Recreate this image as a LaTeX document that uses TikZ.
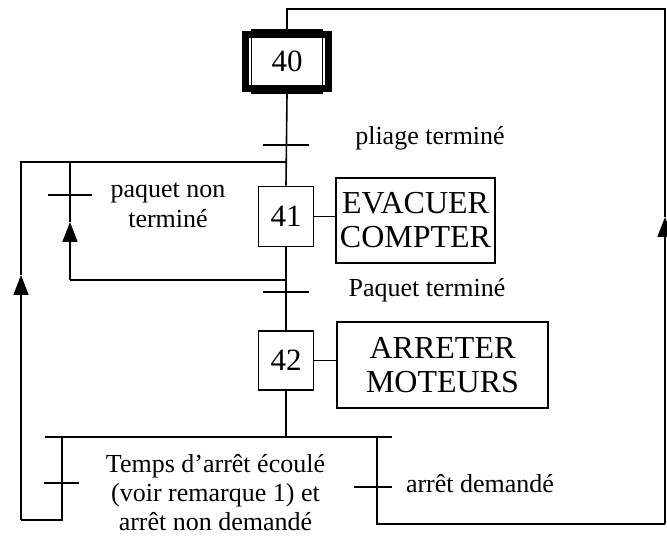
\documentclass[tikz,border=0pt]{standalone}
\usepackage{fontspec}
\setmainfont{Liberation Serif}
\usetikzlibrary{positioning,arrows.meta}

\begin{document}
\begin{tikzpicture}[x=1pt, y=-1pt, line width=1.6pt,
  etape/.style={draw, line width=1.6pt, minimum width=55pt, minimum height=60pt, inner sep=0pt, font=\fontsize{31}{31}\selectfont},
  action/.style={draw, line width=1.6pt, inner sep=0pt, align=center, font=\fontsize{32}{34}\selectfont},
  lbl/.style={font=\fontsize{26}{30}\selectfont, align=center},
  tick/.style={line width=1.6pt},
  fleche/.style={-{Triangle[length=20pt,width=15pt]}},
]
\useasboundingbox (0,0) rectangle (667,537);

% --- etapes ---
\node[etape, minimum width=71pt, minimum height=63pt] (s40) at (287,61.5) {40};
\draw[line width=7pt] ([shift={(-5.5,-5.5)}]s40.south west) rectangle ([shift={(5.5,5.5)}]s40.north east);
\node[etape] (s41) at (286,216.5) {41};
\node[etape, minimum height=59pt] (s42) at (286,360.5) {42};

% --- actions ---
\node[action, minimum width=159pt, minimum height=85pt] (a41) at (415.5,220.5) {EVACUER\\COMPTER};
\node[action, minimum width=211pt, minimum height=86pt] (a42) at (442.5,365) {ARRETER\\MOTEURS};
\draw (s41.east) -- (s41.east -| a41.west);
\draw (s42.east) -- (s42.east -| a42.west);

% --- transitions ---
\coordinate (t1) at (286,145);
\coordinate (j1) at (286,162);
\coordinate (j2) at (286,280);
\coordinate (t2) at (286,292);
\coordinate (t3) at (70,195);
\coordinate (ou) at (286,437);
\coordinate (t4) at (62,483);
\coordinate (t5) at (377,487);

\draw (s40.south) -- (s41.north);
\draw (s41.south) -- (s42.north);
\draw (s42.south) -- (ou);
\draw[tick] ([xshift=-23pt]t1) -- ([xshift=23pt]t1);
\draw[tick] ([xshift=-23pt]t2) -- ([xshift=23pt]t2);
\draw[tick] ([xshift=-22pt]t3) -- ([xshift=22pt]t3);
\draw[tick] ([xshift=-18pt]t4) -- ([xshift=17pt]t4);
\draw[tick] ([xshift=-23pt]t5) -- ([xshift=15pt]t5);

% divergence en OU
\draw (45,437) -- (392,437);

% --- reprise paquet non termine ---
\draw (j2) -- (70,280);
\draw[fleche] (70,280) -- (70,222);
\draw (70,222) -- (70,162) -- (j1);

% --- branche gauche ---
\draw (t4 |- ou) -- (62,520) -- (21,520);
\draw[fleche] (21,520) -- (21,275);
\draw (21,275) -- (21,162) -- (j1);

% --- branche droite ---
\draw (t5 |- ou) -- (377,524) -- (665,524);
\draw[fleche] (665,524) -- (665,217);
\draw (665,217) -- (665,9) -- (287,9) -- (s40.north);

% --- receptivites ---
\node[lbl] (r1) at (430,138) {pliage terminé};
\node[lbl] (r2) at (168,205) {paquet non\\terminé};
\node[lbl] (r3) at (427,290) {Paquet terminé};
\node[lbl, font=\fontsize{26}{29}\selectfont] (r4) at (215.5,493) {Temps d'arrêt écoulé\\(voir remarque 1) et\\arrêt non demandé};
\node[lbl] (r5) at (480,484) {arrêt demandé};
\end{tikzpicture}
\end{document}
